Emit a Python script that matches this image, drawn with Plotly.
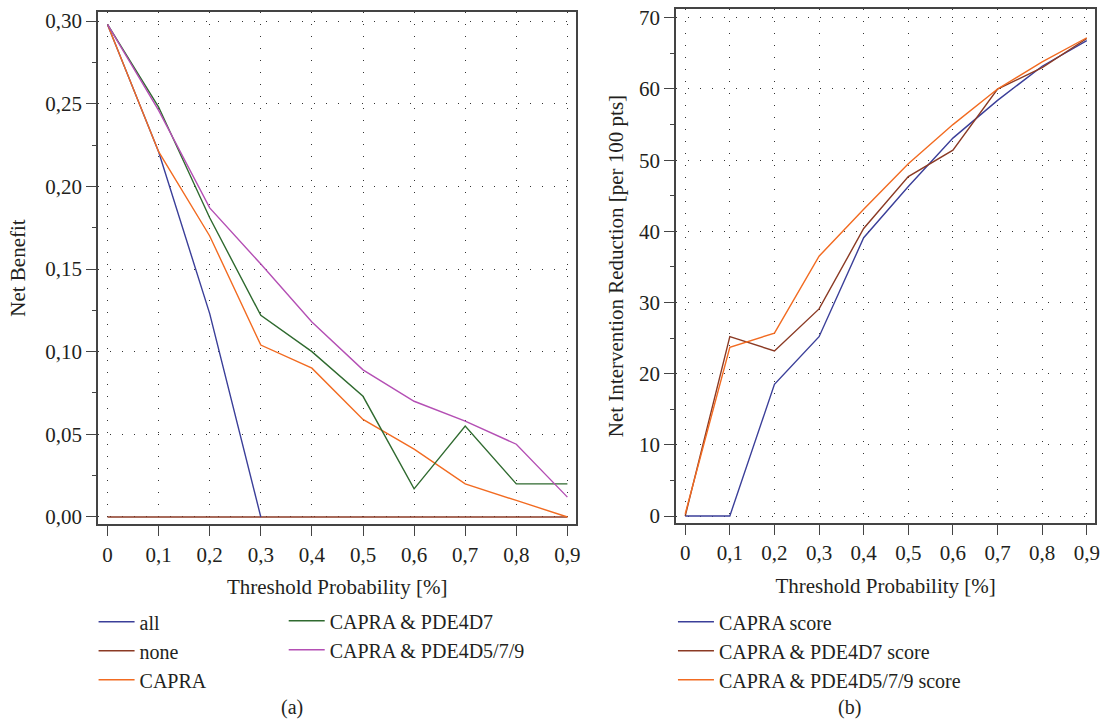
import plotly.graph_objects as go

# ---------------- data ----------------
thresholds = [0, 0.1, 0.2, 0.3, 0.4, 0.5, 0.6, 0.7, 0.8, 0.9]
x_tick_labels = ["0", "0,1", "0,2", "0,3", "0,4", "0,5", "0,6", "0,7", "0,8", "0,9"]

# (a) Net benefit
nb_all = [0.298, 0.221, 0.123, 0.0, None, None, None, None, None, None]
nb_none = [0, 0, 0, 0, 0, 0, 0, 0, 0, 0]
nb_capra = [0.298, 0.221, 0.170, 0.104, 0.090, 0.059, 0.041, 0.020, 0.010, 0.0]
nb_capra_pde4d7 = [0.298, 0.248, 0.181, 0.122, 0.100, 0.073, 0.017, 0.055, 0.020, 0.020]
nb_capra_pde4d579 = [0.298, 0.246, 0.187, 0.153, 0.118, 0.089, 0.070, 0.058, 0.044, 0.012]

# (b) Net intervention reduction per 100 patients
nir_capra = [0, 0, 18.5, 25.2, 39.1, 46.3, 53.1, 58.4, 63.2, 66.8]
nir_capra_pde4d7 = [0, 25.2, 23.2, 29.1, 40.4, 47.7, 51.4, 60.0, 63.0, 67.1]
nir_capra_pde4d579 = [0.3, 23.7, 25.7, 36.5, 43.1, 49.5, 55.0, 60.0, 63.8, 67.2]

nb_y_ticks = [0, 0.05, 0.10, 0.15, 0.20, 0.25, 0.30]
nb_y_labels = ["0,00", "0,05", "0,10", "0,15", "0,20", "0,25", "0,30"]
nir_y_ticks = [0, 10, 20, 30, 40, 50, 60, 70]

# ---------------- style ----------------
W, H = 1108, 725
FONT = "Liberation Serif"
TXT = "#231f20"
BLUE = "#3b3f99"
BROWN = "#8b3a24"
ORANGE = "#f26b21"
GREEN = "#2f6a2f"
PURPLE = "#b44fb4"
LW = 1.4

fig = go.Figure()

def line(x, y, name, color, xa, ya, legend, rank):
    fig.add_trace(go.Scatter(x=x, y=y, name=name, mode="lines",
                             line=dict(color=color, width=LW),
                             xaxis=xa, yaxis=ya, legend=legend,
                             legendrank=rank, connectgaps=False))

line(thresholds, nb_none, "none", BROWN, "x", "y", "legend", 2)
line(thresholds, nb_all, "all", BLUE, "x", "y", "legend", 1)
line(thresholds, nb_capra, "CAPRA", ORANGE, "x", "y", "legend", 3)
line(thresholds, nb_capra_pde4d7, "CAPRA & PDE4D7", GREEN, "x", "y", "legend2", 1)
line(thresholds, nb_capra_pde4d579, "CAPRA & PDE4D5/7/9", PURPLE, "x", "y", "legend2", 2)

line(thresholds, nir_capra, "CAPRA score", BLUE, "x2", "y2", "legend3", 1)
line(thresholds, nir_capra_pde4d7, "CAPRA & PDE4D7 score", BROWN, "x2", "y2", "legend3", 2)
line(thresholds, nir_capra_pde4d579, "CAPRA & PDE4D5/7/9 score", ORANGE, "x2", "y2", "legend3", 3)

def px_x(p):
    return p / W

def px_y(p):
    return 1 - p / H

axis_common = dict(
    showline=True, linecolor="#444", linewidth=2, mirror=True,
    ticks="outside", ticklen=10, tickcolor="#444", tickwidth=1.3,
    showgrid=True, gridcolor="#333", gridwidth=1.3, griddash="1px,11px",
    zeroline=False, tickfont=dict(family=FONT, size=21, color=TXT),
    title_font=dict(family=FONT, size=21, color=TXT),
)

legend_common = dict(xanchor="left", yanchor="top", bgcolor="rgba(0,0,0,0)",
                     font=dict(family=FONT, size=20, color=TXT),
                     traceorder="normal", borderwidth=0, itemwidth=36)

fig.update_layout(
    width=W, height=H,
    margin=dict(l=0, r=0, t=0, b=0),
    paper_bgcolor="white", plot_bgcolor="white",
    font=dict(family=FONT, size=20, color=TXT),
    xaxis=dict(domain=[px_x(98.7), px_x(578.7)], range=[-0.0181, 0.917],
               tickvals=thresholds, ticktext=x_tick_labels,
               title=dict(text="Threshold Probability [%]", standoff=14),
               anchor="y", **axis_common),
    yaxis=dict(domain=[px_y(527.3), px_y(8.7)], range=[-0.00455, 0.30575],
               tickvals=nb_y_ticks, ticktext=nb_y_labels,
               minor=dict(dtick=0.025, tick0=0, ticklen=4, tickcolor="#444", showgrid=False, ticks="outside"),
               title=dict(text="Net Benefit", standoff=14),
               anchor="x", **axis_common),
    xaxis2=dict(domain=[px_x(679.3), px_x(1100)], range=[-0.0201, 0.9185],
                tickvals=thresholds, ticktext=x_tick_labels,
                title=dict(text="Threshold Probability [%]", standoff=14),
                anchor="y2", **axis_common),
    yaxis2=dict(domain=[px_y(526), px_y(6)], range=[-1.01, 71.25],
                tickvals=nir_y_ticks,
                minor=dict(dtick=5, tick0=0, ticklen=4, tickcolor="#444", showgrid=False, ticks="outside"),
                title=dict(text="Net Intervention Reduction [per 100 pts]", standoff=10),
                anchor="x2", **axis_common),
    legend=dict(x=px_x(94), y=px_y(606), **legend_common),
    legend2=dict(x=px_x(285), y=px_y(605), **legend_common),
    legend3=dict(x=px_x(676), y=px_y(606), **legend_common),
    showlegend=True,
)

fig.add_annotation(text="(a)", x=px_x(293), y=px_y(712), xref="paper", yref="paper",
                   xanchor="center", yanchor="middle",
                   showarrow=False, font=dict(family=FONT, size=20, color=TXT))
fig.add_annotation(text="(b)", x=px_x(853), y=px_y(712), xref="paper", yref="paper",
                   xanchor="center", yanchor="middle",
                   showarrow=False, font=dict(family=FONT, size=20, color=TXT))

fig.write_html("out.html", config={"displayModeBar": False},
               post_script="document.body.style.margin='0';document.body.style.padding='0';document.body.style.overflow='hidden';")
